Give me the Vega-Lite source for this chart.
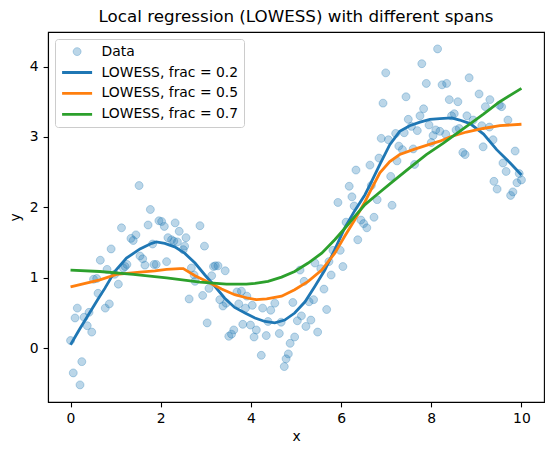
{
  "$schema": "https://vega.github.io/schema/vega-lite/v6.json",
  "width": 496,
  "height": 370,
  "autosize": {"type": "none"},
  "padding": {"left": 48, "top": 32, "right": 10, "bottom": 53},
  "title": {"text": "Local regression (LOWESS) with different spans", "fontSize": 16.7, "fontWeight": "normal", "font": "DejaVu Sans", "color": "#000", "frame": "group", "anchor": "middle", "offset": 6},
  "config": {
    "font": "DejaVu Sans",
    "view": {"stroke": "#000", "strokeWidth": 1.1},
    "axis": {"domainColor": "#000", "domainWidth": 1.1, "tickColor": "#000", "tickWidth": 1.1, "tickSize": 4.9, "labelPadding": 4.9, "labelFontSize": 13.9, "labelColor": "#000", "titleFontSize": 13.9, "titleFontWeight": "normal", "titleColor": "#000", "grid": false, "labelFont": "DejaVu Sans", "titleFont": "DejaVu Sans"}
  },
  "datasets": {
    "points": [
      {"x":0.00,"y":0.11},{"x":0.06,"y":-0.35},{"x":0.10,"y":0.43},{"x":0.15,"y":0.57},{"x":0.21,"y":-0.52},{"x":0.25,"y":-0.19},{"x":0.30,"y":0.44},{"x":0.37,"y":0.32},{"x":0.41,"y":0.51},{"x":0.47,"y":0.23},
      {"x":0.51,"y":0.98},{"x":0.58,"y":0.99},{"x":0.61,"y":0.78},{"x":0.66,"y":1.25},{"x":0.77,"y":0.57},{"x":0.81,"y":1.12},{"x":0.86,"y":0.63},{"x":0.90,"y":1.41},{"x":0.98,"y":1.05},{"x":1.06,"y":0.91},
      {"x":1.13,"y":1.71},{"x":1.17,"y":1.14},{"x":1.21,"y":1.16},{"x":1.25,"y":1.19},{"x":1.34,"y":1.56},{"x":1.39,"y":1.53},{"x":1.45,"y":1.61},{"x":1.52,"y":2.31},{"x":1.54,"y":1.31},{"x":1.60,"y":1.27},
      {"x":1.65,"y":1.18},{"x":1.72,"y":1.75},{"x":1.77,"y":1.97},{"x":1.82,"y":1.48},{"x":1.85,"y":1.19},{"x":1.90,"y":1.19},{"x":1.96,"y":1.81},{"x":2.02,"y":1.80},{"x":2.08,"y":1.73},{"x":2.13,"y":1.23},
      {"x":2.16,"y":1.57},{"x":2.24,"y":1.54},{"x":2.29,"y":1.52},{"x":2.32,"y":1.78},{"x":2.37,"y":1.51},{"x":2.41,"y":1.66},{"x":2.50,"y":1.40},{"x":2.53,"y":1.45},{"x":2.56,"y":1.57},{"x":2.63,"y":0.70},
      {"x":2.68,"y":1.14},{"x":2.74,"y":1.04},{"x":2.76,"y":0.95},{"x":2.87,"y":1.74},{"x":2.93,"y":0.75},{"x":2.97,"y":1.45},{"x":3.03,"y":0.36},{"x":3.07,"y":0.85},{"x":3.13,"y":1.03},{"x":3.17,"y":1.16},
      {"x":3.21,"y":1.17},{"x":3.27,"y":1.17},{"x":3.31,"y":0.69},{"x":3.38,"y":0.60},{"x":3.43,"y":1.10},{"x":3.45,"y":0.64},{"x":3.51,"y":0.17},{"x":3.57,"y":0.20},{"x":3.62,"y":0.26},{"x":3.69,"y":0.80},
      {"x":3.73,"y":0.63},{"x":3.79,"y":0.81},{"x":3.82,"y":0.34},{"x":3.88,"y":0.57},{"x":3.91,"y":0.74},{"x":3.99,"y":0.33},{"x":4.03,"y":0.61},{"x":4.07,"y":0.16},{"x":4.12,"y":0.26},{"x":4.23,"y":-0.10},
      {"x":4.26,"y":0.57},{"x":4.34,"y":0.18},{"x":4.38,"y":0.38},{"x":4.44,"y":0.54},{"x":4.53,"y":0.64},{"x":4.63,"y":0.21},{"x":4.67,"y":0.37},{"x":4.74,"y":-0.26},{"x":4.78,"y":-0.15},{"x":4.83,"y":-0.08},
      {"x":4.87,"y":0.07},{"x":4.93,"y":0.65},{"x":4.97,"y":0.16},{"x":5.03,"y":0.39},{"x":5.09,"y":1.11},{"x":5.12,"y":0.46},{"x":5.18,"y":0.95},{"x":5.22,"y":0.31},{"x":5.29,"y":0.66},{"x":5.33,"y":0.40},
      {"x":5.39,"y":0.69},{"x":5.42,"y":1.21},{"x":5.48,"y":0.23},{"x":5.55,"y":1.13},{"x":5.62,"y":0.84},{"x":5.68,"y":0.55},{"x":5.73,"y":1.23},{"x":5.78,"y":1.04},{"x":5.82,"y":1.39},{"x":5.93,"y":2.07},
      {"x":5.98,"y":1.39},{"x":6.04,"y":1.16},{"x":6.11,"y":1.79},{"x":6.18,"y":2.30},{"x":6.24,"y":2.15},{"x":6.29,"y":2.02},{"x":6.33,"y":2.53},{"x":6.37,"y":1.54},{"x":6.44,"y":1.82},{"x":6.50,"y":1.77},
      {"x":6.57,"y":1.71},{"x":6.64,"y":2.60},{"x":6.67,"y":2.31},{"x":6.73,"y":1.86},{"x":6.80,"y":2.11},{"x":6.84,"y":2.70},{"x":6.89,"y":2.98},{"x":6.93,"y":3.48},{"x":6.99,"y":3.91},{"x":7.05,"y":2.96},
      {"x":7.10,"y":2.44},{"x":7.13,"y":2.03},{"x":7.21,"y":3.05},{"x":7.24,"y":2.66},{"x":7.28,"y":2.87},{"x":7.36,"y":2.82},{"x":7.40,"y":3.06},{"x":7.44,"y":3.57},{"x":7.49,"y":3.25},{"x":7.56,"y":3.15},
      {"x":7.60,"y":2.83},{"x":7.63,"y":2.61},{"x":7.69,"y":3.09},{"x":7.75,"y":3.30},{"x":7.79,"y":4.04},{"x":7.83,"y":3.40},{"x":7.89,"y":3.76},{"x":7.95,"y":3.17},{"x":8.00,"y":2.92},{"x":8.04,"y":3.02},
      {"x":8.10,"y":3.10},{"x":8.14,"y":4.25},{"x":8.19,"y":3.08},{"x":8.24,"y":3.74},{"x":8.32,"y":3.04},{"x":8.34,"y":3.76},{"x":8.40,"y":3.53},{"x":8.45,"y":3.30},{"x":8.51,"y":3.33},{"x":8.55,"y":3.10},
      {"x":8.59,"y":3.50},{"x":8.62,"y":3.12},{"x":8.70,"y":2.78},{"x":8.75,"y":2.75},{"x":8.79,"y":3.30},{"x":8.84,"y":3.84},{"x":8.93,"y":3.24},{"x":9.06,"y":3.61},{"x":9.12,"y":3.16},{"x":9.15,"y":2.86},
      {"x":9.20,"y":3.43},{"x":9.29,"y":3.14},{"x":9.30,"y":3.53},{"x":9.37,"y":2.96},{"x":9.39,"y":2.37},{"x":9.46,"y":2.26},{"x":9.51,"y":3.45},{"x":9.56,"y":3.43},{"x":9.59,"y":2.63},{"x":9.66,"y":2.51},
      {"x":9.70,"y":3.24},{"x":9.76,"y":2.17},{"x":9.81,"y":2.22},{"x":9.86,"y":2.80},{"x":9.90,"y":2.35},{"x":9.95,"y":2.48},{"x":10.0,"y":2.39}
    ],
    "curves": [
      {"series":"LOWESS, frac = 0.2","x":0.0,"y":0.05},{"series":"LOWESS, frac = 0.2","x":0.2,"y":0.27},{"series":"LOWESS, frac = 0.2","x":0.39,"y":0.47},{"series":"LOWESS, frac = 0.2","x":0.6,"y":0.69},{"series":"LOWESS, frac = 0.2","x":0.76,"y":0.85},
      {"series":"LOWESS, frac = 0.2","x":0.98,"y":1.09},{"series":"LOWESS, frac = 0.2","x":1.24,"y":1.28},{"series":"LOWESS, frac = 0.2","x":1.54,"y":1.41},{"series":"LOWESS, frac = 0.2","x":1.8,"y":1.49},{"series":"LOWESS, frac = 0.2","x":1.9,"y":1.51},
      {"series":"LOWESS, frac = 0.2","x":2.09,"y":1.49},{"series":"LOWESS, frac = 0.2","x":2.31,"y":1.44},{"series":"LOWESS, frac = 0.2","x":2.53,"y":1.35},{"series":"LOWESS, frac = 0.2","x":2.76,"y":1.21},{"series":"LOWESS, frac = 0.2","x":2.98,"y":1.04},
      {"series":"LOWESS, frac = 0.2","x":3.2,"y":0.88},{"series":"LOWESS, frac = 0.2","x":3.42,"y":0.71},{"series":"LOWESS, frac = 0.2","x":3.64,"y":0.58},{"series":"LOWESS, frac = 0.2","x":3.87,"y":0.50},{"series":"LOWESS, frac = 0.2","x":4.09,"y":0.43},
      {"series":"LOWESS, frac = 0.2","x":4.31,"y":0.38},{"series":"LOWESS, frac = 0.2","x":4.53,"y":0.36},{"series":"LOWESS, frac = 0.2","x":4.75,"y":0.40},{"series":"LOWESS, frac = 0.2","x":4.97,"y":0.50},{"series":"LOWESS, frac = 0.2","x":5.2,"y":0.66},
      {"series":"LOWESS, frac = 0.2","x":5.42,"y":0.88},{"series":"LOWESS, frac = 0.2","x":5.64,"y":1.11},{"series":"LOWESS, frac = 0.2","x":5.86,"y":1.40},{"series":"LOWESS, frac = 0.2","x":6.08,"y":1.71},{"series":"LOWESS, frac = 0.2","x":6.3,"y":1.95},
      {"series":"LOWESS, frac = 0.2","x":6.53,"y":2.18},{"series":"LOWESS, frac = 0.2","x":6.64,"y":2.32},{"series":"LOWESS, frac = 0.2","x":6.86,"y":2.61},{"series":"LOWESS, frac = 0.2","x":7.08,"y":2.89},{"series":"LOWESS, frac = 0.2","x":7.3,"y":3.08},
      {"series":"LOWESS, frac = 0.2","x":7.52,"y":3.16},{"series":"LOWESS, frac = 0.2","x":7.75,"y":3.21},{"series":"LOWESS, frac = 0.2","x":7.97,"y":3.25},{"series":"LOWESS, frac = 0.2","x":8.19,"y":3.26},{"series":"LOWESS, frac = 0.2","x":8.45,"y":3.27},
      {"series":"LOWESS, frac = 0.2","x":8.63,"y":3.24},{"series":"LOWESS, frac = 0.2","x":8.86,"y":3.19},{"series":"LOWESS, frac = 0.2","x":9.16,"y":3.04},{"series":"LOWESS, frac = 0.2","x":9.45,"y":2.82},{"series":"LOWESS, frac = 0.2","x":9.75,"y":2.63},{"series":"LOWESS, frac = 0.2","x":10.0,"y":2.46},
      {"series":"LOWESS, frac = 0.5","x":0.0,"y":0.87},{"series":"LOWESS, frac = 0.5","x":0.65,"y":0.97},{"series":"LOWESS, frac = 0.5","x":1.02,"y":1.05},{"series":"LOWESS, frac = 0.5","x":1.54,"y":1.08},{"series":"LOWESS, frac = 0.5","x":1.87,"y":1.10},
      {"series":"LOWESS, frac = 0.5","x":2.13,"y":1.12},{"series":"LOWESS, frac = 0.5","x":2.42,"y":1.13},{"series":"LOWESS, frac = 0.5","x":2.5,"y":1.13},{"series":"LOWESS, frac = 0.5","x":2.76,"y":1.03},{"series":"LOWESS, frac = 0.5","x":3.05,"y":0.94},
      {"series":"LOWESS, frac = 0.5","x":3.35,"y":0.84},{"series":"LOWESS, frac = 0.5","x":3.64,"y":0.76},{"series":"LOWESS, frac = 0.5","x":3.94,"y":0.71},{"series":"LOWESS, frac = 0.5","x":4.12,"y":0.69},{"series":"LOWESS, frac = 0.5","x":4.35,"y":0.70},
      {"series":"LOWESS, frac = 0.5","x":4.68,"y":0.74},{"series":"LOWESS, frac = 0.5","x":4.97,"y":0.83},{"series":"LOWESS, frac = 0.5","x":5.27,"y":0.95},{"series":"LOWESS, frac = 0.5","x":5.57,"y":1.11},{"series":"LOWESS, frac = 0.5","x":5.86,"y":1.35},
      {"series":"LOWESS, frac = 0.5","x":6.08,"y":1.59},{"series":"LOWESS, frac = 0.5","x":6.3,"y":1.82},{"series":"LOWESS, frac = 0.5","x":6.53,"y":2.08},{"series":"LOWESS, frac = 0.5","x":6.64,"y":2.22},{"series":"LOWESS, frac = 0.5","x":6.86,"y":2.49},
      {"series":"LOWESS, frac = 0.5","x":7.08,"y":2.65},{"series":"LOWESS, frac = 0.5","x":7.3,"y":2.75},{"series":"LOWESS, frac = 0.5","x":7.6,"y":2.82},{"series":"LOWESS, frac = 0.5","x":7.89,"y":2.88},{"series":"LOWESS, frac = 0.5","x":8.19,"y":2.94},
      {"series":"LOWESS, frac = 0.5","x":8.41,"y":3.0},{"series":"LOWESS, frac = 0.5","x":8.78,"y":3.07},{"series":"LOWESS, frac = 0.5","x":9.15,"y":3.12},{"series":"LOWESS, frac = 0.5","x":9.52,"y":3.16},{"series":"LOWESS, frac = 0.5","x":10.0,"y":3.18},
      {"series":"LOWESS, frac = 0.7","x":0.0,"y":1.11},{"series":"LOWESS, frac = 0.7","x":0.65,"y":1.09},{"series":"LOWESS, frac = 0.7","x":1.39,"y":1.05},{"series":"LOWESS, frac = 0.7","x":2.13,"y":1.0},{"series":"LOWESS, frac = 0.7","x":2.87,"y":0.94},
      {"series":"LOWESS, frac = 0.7","x":3.46,"y":0.91},{"series":"LOWESS, frac = 0.7","x":3.9,"y":0.91},{"series":"LOWESS, frac = 0.7","x":4.09,"y":0.92},{"series":"LOWESS, frac = 0.7","x":4.38,"y":0.95},{"series":"LOWESS, frac = 0.7","x":4.68,"y":1.01},
      {"series":"LOWESS, frac = 0.7","x":4.97,"y":1.09},{"series":"LOWESS, frac = 0.7","x":5.27,"y":1.21},{"series":"LOWESS, frac = 0.7","x":5.57,"y":1.35},{"series":"LOWESS, frac = 0.7","x":5.86,"y":1.54},{"series":"LOWESS, frac = 0.7","x":6.08,"y":1.70},
      {"series":"LOWESS, frac = 0.7","x":6.3,"y":1.87},{"series":"LOWESS, frac = 0.7","x":6.53,"y":2.04},{"series":"LOWESS, frac = 0.7","x":6.79,"y":2.18},{"series":"LOWESS, frac = 0.7","x":7.15,"y":2.37},{"series":"LOWESS, frac = 0.7","x":7.52,"y":2.56},
      {"series":"LOWESS, frac = 0.7","x":7.89,"y":2.75},{"series":"LOWESS, frac = 0.7","x":8.26,"y":2.91},{"series":"LOWESS, frac = 0.7","x":8.63,"y":3.08},{"series":"LOWESS, frac = 0.7","x":9.15,"y":3.32},{"series":"LOWESS, frac = 0.7","x":9.52,"y":3.50},{"series":"LOWESS, frac = 0.7","x":10.0,"y":3.69}
    ]
  },
  "encoding": {
    "x": {"field": "x", "type": "quantitative", "scale": {"domain": [-0.5, 10.5], "nice": false, "zero": false}, "axis": {"values": [0, 2, 4, 6, 8, 10], "format": "d", "title": "x", "titlePadding": 4}},
    "y": {"field": "y", "type": "quantitative", "scale": {"domain": [-0.763, 4.49], "nice": false, "zero": false}, "axis": {"values": [0, 1, 2, 3, 4], "format": "d", "title": "y", "titlePadding": 7}}
  },
  "layer": [
    {
      "data": {"name": "points"},
      "mark": {"type": "point", "opacity": 1},
      "encoding": {
        "stroke": {"datum": "Data", "type": "nominal",
          "scale": {"domain": ["Data", "LOWESS, frac = 0.2", "LOWESS, frac = 0.5", "LOWESS, frac = 0.7"], "range": ["rgba(31,119,180,0.3)", "#1f77b4", "#ff7f0e", "#2ca02c"]},
          "legend": {"title": null, "orient": "none", "legendX": 7, "legendY": 7, "columns": 1, "padding": 5.6, "rowPadding": 6.9, "clipHeight": 14, "symbolOffset": 0, "labelOffset": 8, "labelFontSize": 13.9, "labelColor": "#000", "labelLimit": 400, "fillColor": "rgba(255,255,255,0.8)", "strokeColor": "#cccccc", "cornerRadius": 3}},
        "fill": {"datum": "Data", "type": "nominal",
          "scale": {"domain": ["Data", "LOWESS, frac = 0.2", "LOWESS, frac = 0.5", "LOWESS, frac = 0.7"], "range": ["rgba(31,119,180,0.3)", "transparent", "transparent", "transparent"]},
          "legend": {"title": null}},
        "shape": {"datum": "Data", "type": "nominal",
          "scale": {"domain": ["Data", "LOWESS, frac = 0.2", "LOWESS, frac = 0.5", "LOWESS, frac = 0.7"], "range": ["M0.265,0A0.265,0.265,0,1,1,-0.265,0A0.265,0.265,0,1,1,0.265,0Z", "stroke", "stroke", "stroke"]},
          "legend": {"title": null}},
        "size": {"datum": "Data", "type": "nominal",
          "scale": {"type": "ordinal", "domain": ["Data", "LOWESS, frac = 0.2", "LOWESS, frac = 0.5", "LOWESS, frac = 0.7"], "range": [900, 900, 900, 900]},
          "legend": {"title": null}},
        "strokeWidth": {"datum": "Data", "type": "nominal",
          "scale": {"type": "ordinal", "domain": ["Data", "LOWESS, frac = 0.2", "LOWESS, frac = 0.5", "LOWESS, frac = 0.7"], "range": [1, 2.8, 2.8, 2.8]},
          "legend": {"title": null}}
      }
    },
    {
      "data": {"name": "curves"},
      "mark": {"type": "line", "strokeWidth": 2.8},
      "encoding": {
        "stroke": {"field": "series", "type": "nominal", "legend": null}
      }
    }
  ]
}
